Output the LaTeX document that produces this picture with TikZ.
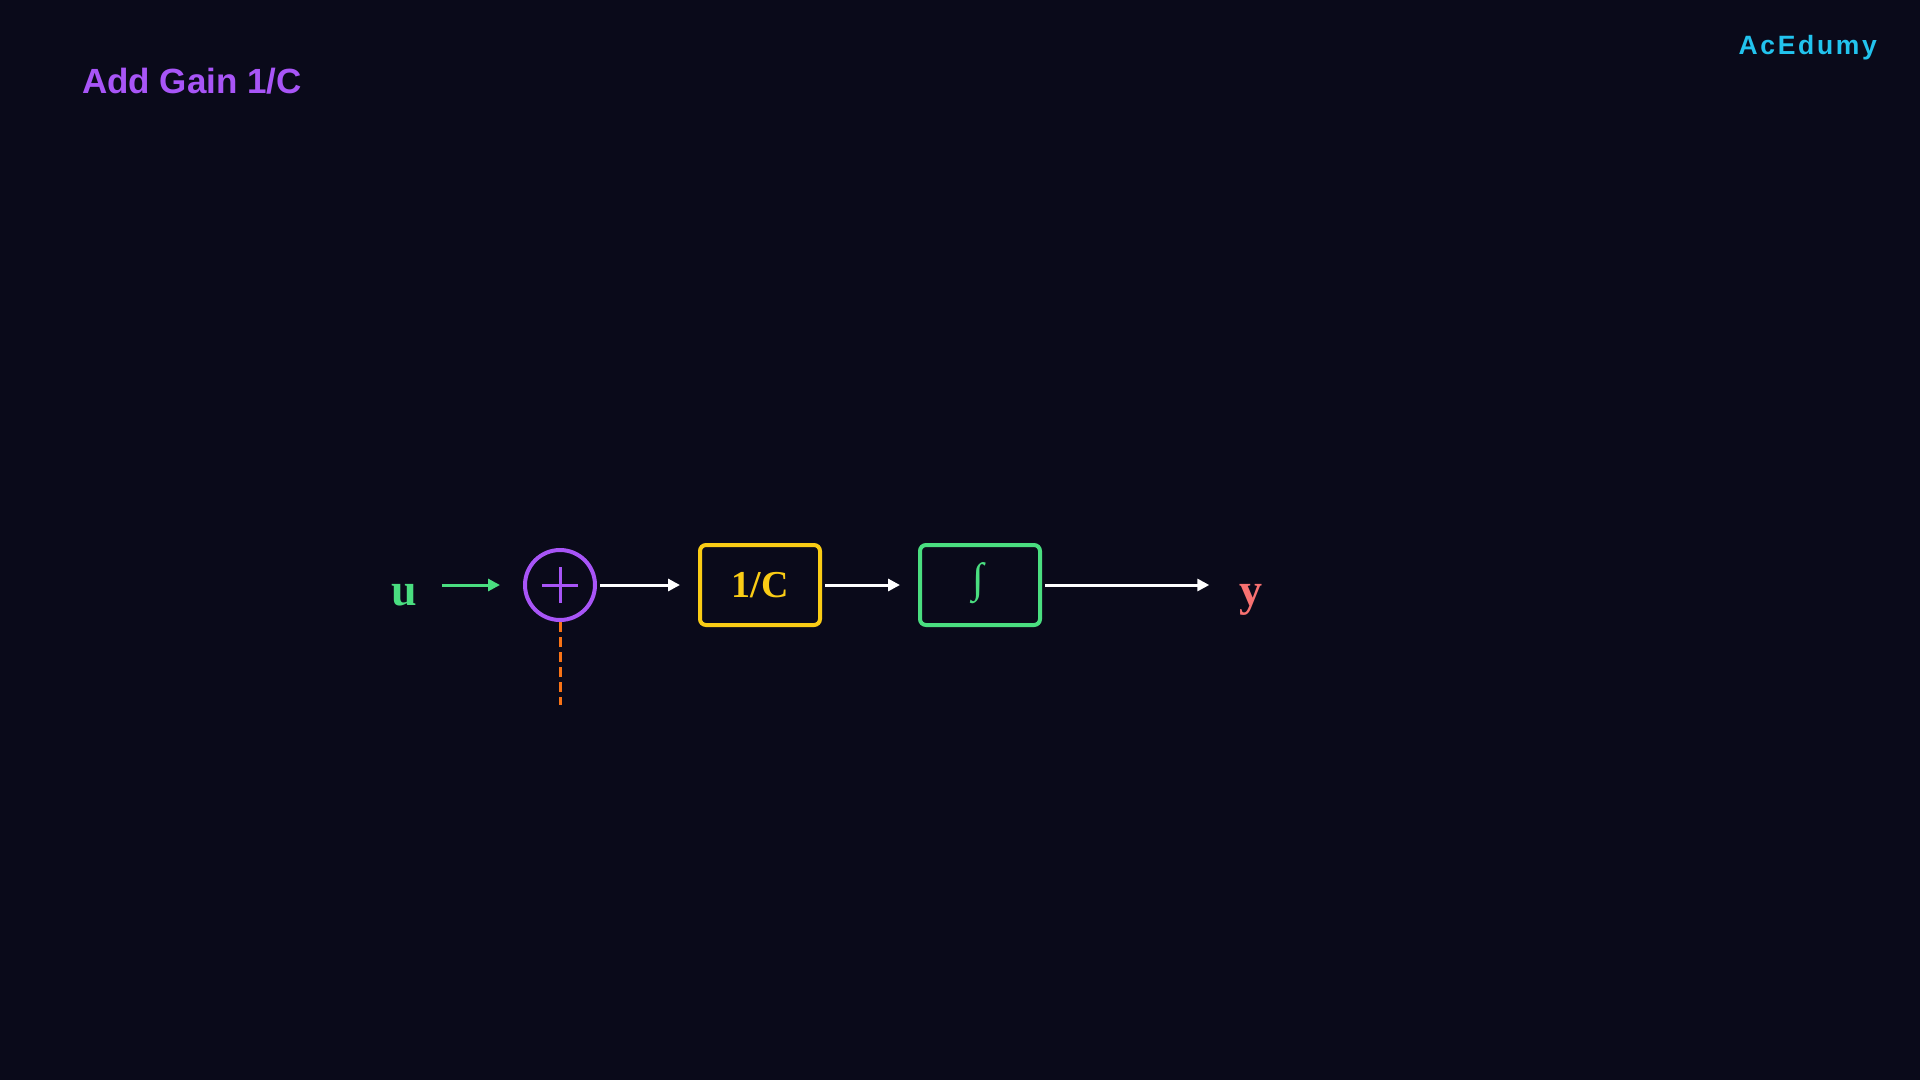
\documentclass[tikz,border=0pt]{standalone}
\usepackage{fontspec}
\setmainfont{Liberation Serif}
\newfontfamily\titlefont{Liberation Sans}[BoldFont={Liberation Sans Bold}]
\newfontfamily\brandfont{Liberation Sans}[LetterSpace=10]
\usetikzlibrary{arrows.meta}
\definecolor{bg}{HTML}{0A0A1A}
\definecolor{cpurple}{HTML}{A855F7}
\definecolor{ccyan}{HTML}{22C3EE}
\definecolor{cgreen}{HTML}{4ADE80}
\definecolor{cyellow}{HTML}{FACC15}
\definecolor{corange}{HTML}{F97316}
\definecolor{cred}{HTML}{F87171}
\tikzset{
  conn/.style={line width=3pt, -{Triangle[length=12pt,width=12pt]}},
  blockbox/.style={draw, line width=4pt, rounded corners=6pt, minimum width=120pt, minimum height=80pt, inner sep=0pt},
  sumnode/.style={draw=cpurple, circle, line width=4pt, minimum size=70pt, inner sep=0pt},
  varlabel/.style={inner sep=0pt, font=\fontsize{46}{50}\selectfont\bfseries},
}
\begin{document}
\begin{tikzpicture}[x=1pt,y=-1pt]
\fill[bg] (0,0) rectangle (1920,1080);
\useasboundingbox (0,0) rectangle (1920,1080);

\node[anchor=base west, inner sep=0pt, text=cpurple, font=\titlefont\bfseries\fontsize{35}{40}\selectfont] (title) at (82,93) {Add Gain 1/C};
\node[anchor=base east, inner sep=0pt, text=ccyan, font=\brandfont\bfseries\fontsize{26.5}{28}\selectfont] (brand) at (1877,54) {AcEdumy};

\node[sumnode] (sum) at (560,585) {};
\draw[cpurple, line width=3pt] ([xshift=-18pt]sum.center) -- ([xshift=18pt]sum.center);
\draw[cpurple, line width=3pt] ([yshift=-18pt]sum.center) -- ([yshift=18pt]sum.center);

\node[blockbox, draw=cyellow, text=cyellow, font=\fontsize{38}{40}\selectfont\bfseries] (gain) at (760,585) {1/C};
\node[blockbox, draw=cgreen, text=cgreen] (integ) at (980,585) {};
\node[inner sep=0pt, text=cgreen, font=\fontsize{42}{44}\selectfont] (intsym) at (978,583) {∫};

\node[varlabel, text=cgreen, anchor=base] (u) at (404,605) {u};
\node[varlabel, text=cred, anchor=base] (y) at (1251,605) {y};

\coordinate (fb) at (560,705);

\draw[conn, cgreen, shorten <=25pt, shorten >=23pt] (u.east |- sum.west) -- (sum.west);
\draw[conn, white, shorten <=3pt, shorten >=18pt] (sum.east) -- (gain.west);
\draw[conn, white, shorten <=3pt, shorten >=18pt] (gain.east) -- (integ.west);
\draw[conn, white, shorten <=3pt, shorten >=30pt] (integ.east) -- (y.west |- integ.east);
\draw[corange, line width=3pt, dash pattern=on 10pt off 5pt] (sum.south) -- (fb);
\end{tikzpicture}
\end{document}
